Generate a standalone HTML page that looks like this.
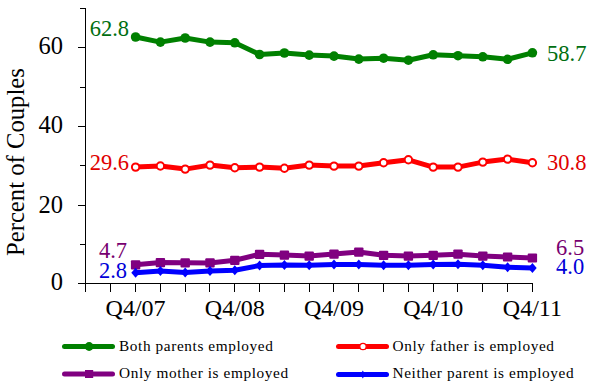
<!DOCTYPE html>
<html><head><meta charset="utf-8"><style>
html,body{margin:0;padding:0;background:#fff;}
body{width:592px;height:386px;overflow:hidden;}
svg{display:block;}
</style></head><body>
<svg width="592" height="386" viewBox="0 0 592 386">
<g stroke="#000" stroke-width="1" fill="none" shape-rendering="crispEdges">
<path d="M85.5,8 V291.5"/>
<path d="M78,283.5 H533"/>
<path d="M80,244.5 H85.5"/>
<path d="M78,205.5 H85.5"/>
<path d="M80,165.5 H85.5"/>
<path d="M78,126.5 H85.5"/>
<path d="M80,87.5 H85.5"/>
<path d="M78,47.5 H85.5"/>
<path d="M80,8.5 H85.5"/>
<path d="M85.5,283.5 V291.5"/>
<path d="M110.5,283.5 V291.5"/>
<path d="M135.5,283.5 V291.5"/>
<path d="M160.5,283.5 V291.5"/>
<path d="M185.5,283.5 V291.5"/>
<path d="M209.5,283.5 V291.5"/>
<path d="M234.5,283.5 V291.5"/>
<path d="M259.5,283.5 V291.5"/>
<path d="M284.5,283.5 V291.5"/>
<path d="M309.5,283.5 V291.5"/>
<path d="M333.5,283.5 V291.5"/>
<path d="M358.5,283.5 V291.5"/>
<path d="M383.5,283.5 V291.5"/>
<path d="M408.5,283.5 V291.5"/>
<path d="M433.5,283.5 V291.5"/>
<path d="M457.5,283.5 V291.5"/>
<path d="M482.5,283.5 V291.5"/>
<path d="M507.5,283.5 V291.5"/>
<path d="M532.5,283.5 V291.5"/>
</g>
<polyline points="135.6,37.0 160.4,42.1 185.2,38.0 210.0,42.1 234.8,42.8 259.6,54.5 284.4,53.0 309.2,55.1 334.0,56.1 358.8,59.1 383.6,58.2 408.4,60.2 433.2,54.8 458.0,55.7 482.8,56.8 507.6,59.3 532.4,52.8" fill="none" stroke="#008000" stroke-width="5" stroke-linejoin="round"/>
<polyline points="135.6,167.1 160.4,166.0 185.2,169.1 210.0,165.1 234.8,167.8 259.6,167.1 284.4,168.2 309.2,165.1 334.0,166.1 358.8,166.1 383.6,162.8 408.4,159.8 433.2,167.1 458.0,167.1 482.8,162.1 507.6,159.1 532.4,162.8" fill="none" stroke="#ff0000" stroke-width="5" stroke-linejoin="round"/>
<polyline points="135.6,264.8 160.4,262.6 185.2,262.8 210.0,262.9 234.8,260.3 259.6,254.3 284.4,255.1 309.2,256.1 334.0,254.1 358.8,252.1 383.6,255.3 408.4,256.1 433.2,255.3 458.0,254.2 482.8,256.1 507.6,257.0 532.4,258.0" fill="none" stroke="#800080" stroke-width="5" stroke-linejoin="round"/>
<polyline points="135.6,272.7 160.4,271.1 185.2,272.5 210.0,270.9 234.8,270.2 259.6,265.5 284.4,264.9 309.2,265.2 334.0,264.5 358.8,264.5 383.6,265.2 408.4,265.2 433.2,264.5 458.0,264.3 482.8,265.2 507.6,267.2 532.4,267.9" fill="none" stroke="#0000ff" stroke-width="5" stroke-linejoin="round"/>
<circle cx="135.6" cy="37.0" r="4.8" fill="#008000"/>
<circle cx="160.4" cy="42.1" r="4.8" fill="#008000"/>
<circle cx="185.2" cy="38.0" r="4.8" fill="#008000"/>
<circle cx="210.0" cy="42.1" r="4.8" fill="#008000"/>
<circle cx="234.8" cy="42.800000000000004" r="4.8" fill="#008000"/>
<circle cx="259.6" cy="54.5" r="4.8" fill="#008000"/>
<circle cx="284.4" cy="53.0" r="4.8" fill="#008000"/>
<circle cx="309.2" cy="55.1" r="4.8" fill="#008000"/>
<circle cx="334.0" cy="56.1" r="4.8" fill="#008000"/>
<circle cx="358.8" cy="59.1" r="4.8" fill="#008000"/>
<circle cx="383.6" cy="58.2" r="4.8" fill="#008000"/>
<circle cx="408.4" cy="60.2" r="4.8" fill="#008000"/>
<circle cx="433.2" cy="54.800000000000004" r="4.8" fill="#008000"/>
<circle cx="458.0" cy="55.7" r="4.8" fill="#008000"/>
<circle cx="482.8" cy="56.800000000000004" r="4.8" fill="#008000"/>
<circle cx="507.6" cy="59.300000000000004" r="4.8" fill="#008000"/>
<circle cx="532.4" cy="52.800000000000004" r="4.8" fill="#008000"/>
<circle cx="135.6" cy="167.1" r="3.7" fill="#fff" stroke="#ff0000" stroke-width="2"/>
<circle cx="160.4" cy="166.0" r="3.7" fill="#fff" stroke="#ff0000" stroke-width="2"/>
<circle cx="185.2" cy="169.1" r="3.7" fill="#fff" stroke="#ff0000" stroke-width="2"/>
<circle cx="210.0" cy="165.1" r="3.7" fill="#fff" stroke="#ff0000" stroke-width="2"/>
<circle cx="234.8" cy="167.79999999999998" r="3.7" fill="#fff" stroke="#ff0000" stroke-width="2"/>
<circle cx="259.6" cy="167.1" r="3.7" fill="#fff" stroke="#ff0000" stroke-width="2"/>
<circle cx="284.4" cy="168.2" r="3.7" fill="#fff" stroke="#ff0000" stroke-width="2"/>
<circle cx="309.2" cy="165.1" r="3.7" fill="#fff" stroke="#ff0000" stroke-width="2"/>
<circle cx="334.0" cy="166.1" r="3.7" fill="#fff" stroke="#ff0000" stroke-width="2"/>
<circle cx="358.8" cy="166.1" r="3.7" fill="#fff" stroke="#ff0000" stroke-width="2"/>
<circle cx="383.6" cy="162.79999999999998" r="3.7" fill="#fff" stroke="#ff0000" stroke-width="2"/>
<circle cx="408.4" cy="159.79999999999998" r="3.7" fill="#fff" stroke="#ff0000" stroke-width="2"/>
<circle cx="433.2" cy="167.1" r="3.7" fill="#fff" stroke="#ff0000" stroke-width="2"/>
<circle cx="458.0" cy="167.1" r="3.7" fill="#fff" stroke="#ff0000" stroke-width="2"/>
<circle cx="482.8" cy="162.1" r="3.7" fill="#fff" stroke="#ff0000" stroke-width="2"/>
<circle cx="507.6" cy="159.1" r="3.7" fill="#fff" stroke="#ff0000" stroke-width="2"/>
<circle cx="532.4" cy="162.79999999999998" r="3.7" fill="#fff" stroke="#ff0000" stroke-width="2"/>
<rect x="130.9" y="260.2" width="9.4" height="9.2" rx="1" fill="#800080"/>
<rect x="155.7" y="258.0" width="9.4" height="9.2" rx="1" fill="#800080"/>
<rect x="180.5" y="258.2" width="9.4" height="9.2" rx="1" fill="#800080"/>
<rect x="205.3" y="258.3" width="9.4" height="9.2" rx="1" fill="#800080"/>
<rect x="230.1" y="255.7" width="9.4" height="9.2" rx="1" fill="#800080"/>
<rect x="254.9" y="249.7" width="9.4" height="9.2" rx="1" fill="#800080"/>
<rect x="279.7" y="250.5" width="9.4" height="9.2" rx="1" fill="#800080"/>
<rect x="304.5" y="251.5" width="9.4" height="9.2" rx="1" fill="#800080"/>
<rect x="329.3" y="249.5" width="9.4" height="9.2" rx="1" fill="#800080"/>
<rect x="354.1" y="247.5" width="9.4" height="9.2" rx="1" fill="#800080"/>
<rect x="378.9" y="250.7" width="9.4" height="9.2" rx="1" fill="#800080"/>
<rect x="403.7" y="251.5" width="9.4" height="9.2" rx="1" fill="#800080"/>
<rect x="428.5" y="250.7" width="9.4" height="9.2" rx="1" fill="#800080"/>
<rect x="453.3" y="249.6" width="9.4" height="9.2" rx="1" fill="#800080"/>
<rect x="478.1" y="251.5" width="9.4" height="9.2" rx="1" fill="#800080"/>
<rect x="502.9" y="252.4" width="9.4" height="9.2" rx="1" fill="#800080"/>
<rect x="527.7" y="253.4" width="9.4" height="9.2" rx="1" fill="#800080"/>
<path d="M135.6,267.7 L139.9,272.7 L135.6,277.7 L131.3,272.7Z" fill="#0000ff"/>
<path d="M160.4,266.1 L164.7,271.1 L160.4,276.1 L156.1,271.1Z" fill="#0000ff"/>
<path d="M185.2,267.5 L189.5,272.5 L185.2,277.5 L180.9,272.5Z" fill="#0000ff"/>
<path d="M210.0,265.9 L214.3,270.9 L210.0,275.9 L205.7,270.9Z" fill="#0000ff"/>
<path d="M234.8,265.2 L239.1,270.2 L234.8,275.2 L230.5,270.2Z" fill="#0000ff"/>
<path d="M259.6,260.5 L263.9,265.5 L259.6,270.5 L255.3,265.5Z" fill="#0000ff"/>
<path d="M284.4,259.9 L288.7,264.9 L284.4,269.9 L280.1,264.9Z" fill="#0000ff"/>
<path d="M309.2,260.2 L313.5,265.2 L309.2,270.2 L304.9,265.2Z" fill="#0000ff"/>
<path d="M334.0,259.5 L338.3,264.5 L334.0,269.5 L329.7,264.5Z" fill="#0000ff"/>
<path d="M358.8,259.5 L363.1,264.5 L358.8,269.5 L354.5,264.5Z" fill="#0000ff"/>
<path d="M383.6,260.2 L387.9,265.2 L383.6,270.2 L379.3,265.2Z" fill="#0000ff"/>
<path d="M408.4,260.2 L412.7,265.2 L408.4,270.2 L404.1,265.2Z" fill="#0000ff"/>
<path d="M433.2,259.5 L437.5,264.5 L433.2,269.5 L428.9,264.5Z" fill="#0000ff"/>
<path d="M458.0,259.3 L462.3,264.3 L458.0,269.3 L453.7,264.3Z" fill="#0000ff"/>
<path d="M482.8,260.2 L487.1,265.2 L482.8,270.2 L478.5,265.2Z" fill="#0000ff"/>
<path d="M507.6,262.2 L511.9,267.2 L507.6,272.2 L503.3,267.2Z" fill="#0000ff"/>
<path d="M532.4,262.9 L536.7,267.9 L532.4,272.9 L528.1,267.9Z" fill="#0000ff"/>
<text x="63" y="54.3" font-family="Liberation Serif, serif" font-size="24.5" text-anchor="end">60</text>
<text x="63" y="133.3" font-family="Liberation Serif, serif" font-size="24.5" text-anchor="end">40</text>
<text x="63" y="212.6" font-family="Liberation Serif, serif" font-size="24.5" text-anchor="end">20</text>
<text x="63" y="290.4" font-family="Liberation Serif, serif" font-size="24.5" text-anchor="end">0</text>
<text transform="translate(23.5,256) rotate(-90)" font-family="Liberation Serif, serif" font-size="24.7">Percent of Couples</text>
<text x="135.6" y="315.7" font-family="Liberation Serif, serif" font-size="24" text-anchor="middle">Q4/07</text>
<text x="234.8" y="315.7" font-family="Liberation Serif, serif" font-size="24" text-anchor="middle">Q4/08</text>
<text x="334.0" y="315.7" font-family="Liberation Serif, serif" font-size="24" text-anchor="middle">Q4/09</text>
<text x="433.2" y="315.7" font-family="Liberation Serif, serif" font-size="24" text-anchor="middle">Q4/10</text>
<text x="532.4" y="315.7" font-family="Liberation Serif, serif" font-size="24" text-anchor="middle">Q4/11</text>
<text x="129" y="36" font-family="Liberation Serif, serif" font-size="22.5" text-anchor="end" fill="#006e10">62.8</text>
<text x="129" y="170" font-family="Liberation Serif, serif" font-size="22.5" text-anchor="end" fill="#e00000">29.6</text>
<text x="127" y="258" font-family="Liberation Serif, serif" font-size="22.5" text-anchor="end" fill="#780070">4.7</text>
<text x="127" y="278" font-family="Liberation Serif, serif" font-size="22.5" text-anchor="end" fill="#0000d8">2.8</text>
<text x="547" y="61" font-family="Liberation Serif, serif" font-size="22.5" fill="#006e10">58.7</text>
<text x="547" y="170" font-family="Liberation Serif, serif" font-size="22.5" fill="#e00000">30.8</text>
<text x="556" y="254.5" font-family="Liberation Serif, serif" font-size="22.5" fill="#780070">6.5</text>
<text x="556" y="274" font-family="Liberation Serif, serif" font-size="22.5" fill="#0000d8">4.0</text>
<path d="M64.5,346.5 H112.5" stroke="#008000" stroke-width="5" stroke-linecap="round"/>
<circle cx="89.1" cy="346.5" r="4.4" fill="#008000"/>
<path d="M64.5,374 H112.5" stroke="#800080" stroke-width="5" stroke-linecap="round"/>
<rect x="85" y="370" width="8.2" height="8" fill="#800080"/>
<path d="M338.5,346.5 H386.5" stroke="#ff0000" stroke-width="5" stroke-linecap="round"/>
<circle cx="363" cy="346.5" r="3.2" fill="#fff" stroke="#ff0000" stroke-width="1.3"/>
<path d="M338.5,374.5 H386.5" stroke="#0000ff" stroke-width="5" stroke-linecap="round"/>
<path d="M362.8,370.5 L365.2,374.5 L362.8,378.5 L360.4,374.5Z" fill="#0000ff"/>
<text x="119" y="351.3" font-family="Liberation Serif, serif" font-size="15.3" letter-spacing="0.6">Both parents employed</text>
<text x="119" y="378.3" font-family="Liberation Serif, serif" font-size="15.3" letter-spacing="0.6">Only mother is employed</text>
<text x="392.5" y="351.3" font-family="Liberation Serif, serif" font-size="15.3" letter-spacing="0.6">Only father is employed</text>
<text x="392.5" y="378.3" font-family="Liberation Serif, serif" font-size="15.3" letter-spacing="0.6">Neither parent is employed</text>
</svg>
</body></html>
